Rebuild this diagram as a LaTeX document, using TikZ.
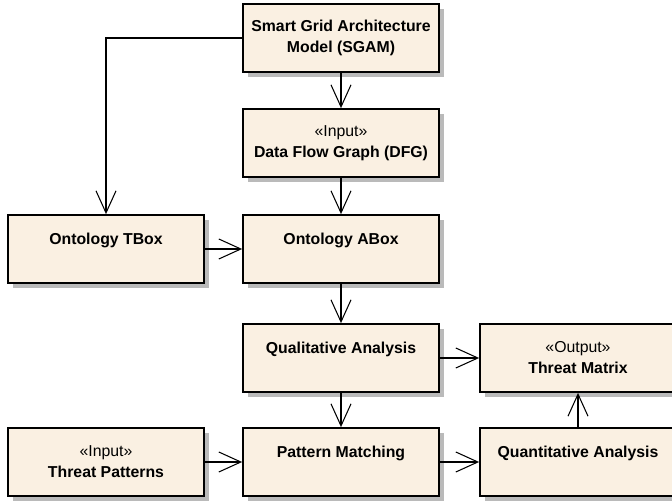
\documentclass[tikz,border=0pt]{standalone}
\usepackage{fontspec}
\setmainfont{Liberation Sans}
\usetikzlibrary{arrows.meta,shadows}
\definecolor{boxfill}{RGB}{250,240,226}
\tikzset{
  block/.style={draw=black, line width=1.5pt, fill=boxfill, minimum width=5.88cm, minimum height=2.04cm,
    inner sep=0pt, align=center, font=\fontsize{13.5}{18}\selectfont\bfseries,
    drop shadow={shadow xshift=0.14cm, shadow yshift=-0.14cm, fill=black!27, opacity=1}},
  flow/.style={line width=0.9pt, -{Straight Barb[length=0.66cm, width=0.6cm, line width=0.9pt]}}
}

\begin{document}
\begin{tikzpicture}[x=0.03cm, y=-0.03cm]
		%%%%% START %%%%%
		
		\clip (0, 0) rectangle (672, 500);
		
		\node[block] (sgam) at (341, 38) {Smart Grid Architecture\\Model (SGAM)};
		\node[block] (dfg) at (341, 143) {\textmd{«Input»}\\Data Flow Graph (DFG)};
		
		\node[block] (tbox) at (106, 249) {Ontology TBox\\\mbox{}};
		\node[block] (abox) at (341, 249) {Ontology ABox\\\mbox{}};
		
		\node[block] (qual) at (341, 358) {Qualitative Analysis\\\mbox{}};
		\node[block] (matrix) at (578, 358) {\textmd{«Output»}\\Threat Matrix};
		
		\node[block] (patterns) at (106, 462) {\textmd{«Input»}\\Threat Patterns};
		\node[block] (match) at (341, 462) {Pattern Matching\\\mbox{}};
		\node[block] (quant) at (578, 462) {Quantitative Analysis\\\mbox{}};
		
		\draw[flow] (sgam.south) -- (dfg.north);
		\draw[flow] (sgam.west) -| (tbox.north);
		\draw[flow] (dfg.south) -- (abox.north);
		\draw[flow] (tbox.east) -- (abox.west);
		
		\draw[flow] (abox.south) -- (qual.north);
		\draw[flow] (qual.east) -- (matrix.west);
		\draw[flow] (qual.south) -- (match.north);
		
		\draw[flow] (patterns.east) -- (match.west);
		\draw[flow] (match.east) -- (quant.west);
		\draw[flow] (quant.north) -- (matrix.south);
		
		%%%%% END %%%%%
	\end{tikzpicture}
\end{document}
